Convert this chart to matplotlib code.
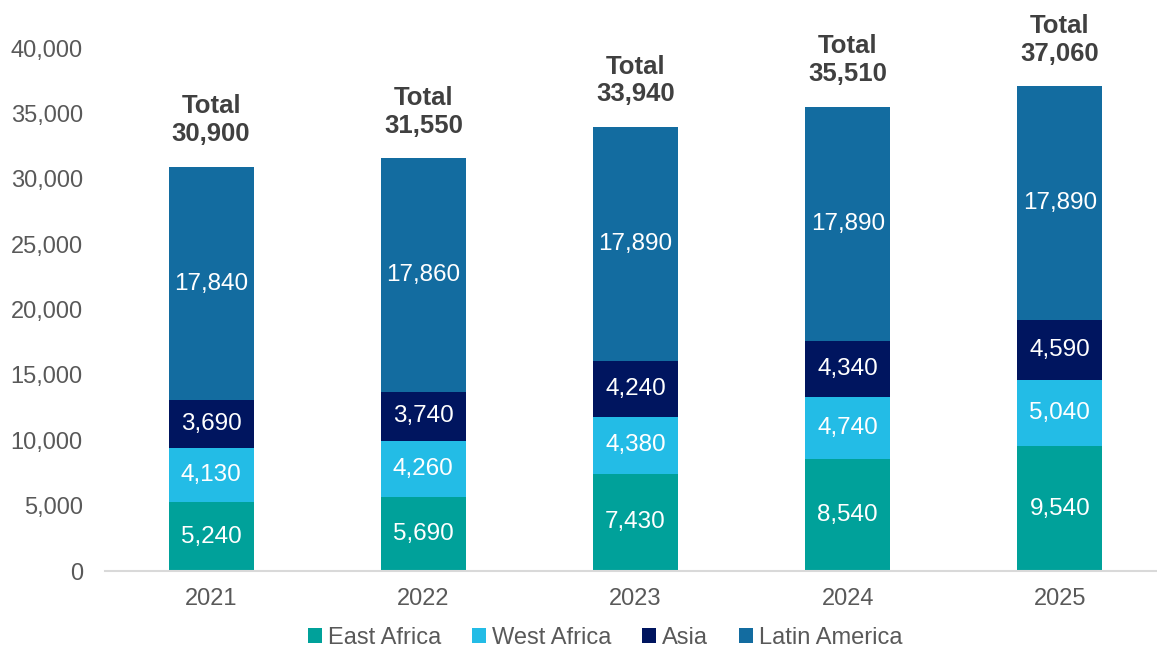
import matplotlib
matplotlib.use("Agg")
import matplotlib.pyplot as plt
from matplotlib.patches import Patch
import numpy as np

years = ["2021", "2022", "2023", "2024", "2025"]
series_names = ["East Africa", "West Africa", "Asia", "Latin America"]
east_africa = [5240, 5690, 7430, 8540, 9540]
west_africa = [4130, 4260, 4380, 4740, 5040]
asia = [3690, 3740, 4240, 4340, 4590]
latin_america = [17840, 17860, 17890, 17890, 17890]
totals = [30900, 31550, 33940, 35510, 37060]
yticks = [0, 5000, 10000, 15000, 20000, 25000, 30000, 35000, 40000]

colors = ["#00A19A", "#23BCE6", "#00155F", "#136CA0"]

plt.rcParams['font.family'] = ['Liberation Sans', 'DejaVu Sans']

fig = plt.figure(figsize=(11.57, 6.48), dpi=100)
W, H = 1157, 648
ax = fig.add_axes([105 / W, (H - 571) / H, (1157 - 105) / W, (571 - 48) / H])

x = np.arange(len(years))
bottom = np.zeros(len(years))
all_series = [east_africa, west_africa, asia, latin_america]
for vals, col, name in zip(all_series, colors, series_names):
    vals = np.array(vals)
    ax.bar(x, vals, width=0.4, bottom=bottom, color=col, edgecolor='none', label=name)
    for xi, b, v in zip(x, bottom, vals):
        ax.text(xi, b + v / 2, f"{v:,}", ha='center', va='center', color='white', fontsize=17.5)
    bottom += vals

for xi, t in zip(x, totals):
    ax.annotate(f"Total\n{t:,}", xy=(xi, t), xytext=(0, 15), textcoords='offset points',
                ha='center', va='bottom', fontsize=18.5, fontweight='bold', color='#404040',
                linespacing=1.2, annotation_clip=False)

ax.set_xlim(-0.5, 4.5 - 9 / 212)
ax.set_ylim(0, 40000)
ax.set_xticks(x)
ax.set_xticklabels(years)
ax.set_yticks(yticks)
ax.set_yticklabels([f"{v:,}" for v in yticks])
ax.tick_params(axis='both', length=0, labelsize=17, labelcolor='#595959')
ax.tick_params(axis='x', pad=12)
ax.tick_params(axis='y', pad=16)
for s in ['top', 'right', 'left']:
    ax.spines[s].set_visible(False)
ax.spines['bottom'].set_color('#D9D9D9')
ax.spines['bottom'].set_linewidth(1.5)

handles = [Patch(facecolor=c, edgecolor='none', label=n) for c, n in zip(colors, series_names)]
leg = fig.legend(handles=handles, loc='center', bbox_to_anchor=(605 / W, 1 - 638 / H), ncol=4,
                 frameon=False, fontsize=17, handlelength=0.6, handleheight=0.6,
                 handletextpad=0.25, columnspacing=1.3, labelcolor='#595959')

fig.savefig("out.png", dpi=100)
